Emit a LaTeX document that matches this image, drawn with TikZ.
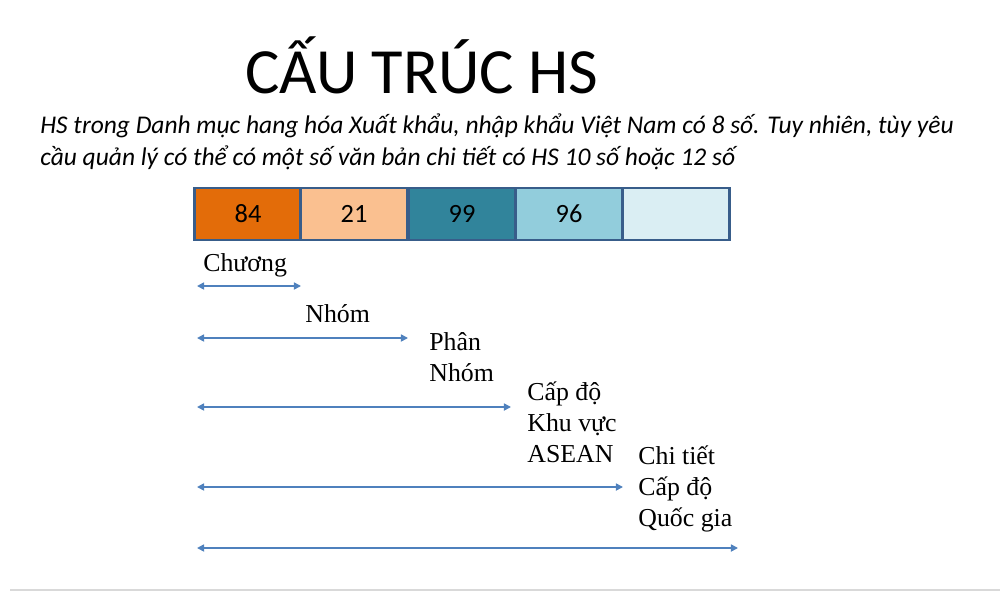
\documentclass[tikz,border=0pt]{standalone}
\usepackage{fontspec}
\setmainfont{Liberation Serif}
\newfontfamily\calibri{Carlito}
\usetikzlibrary{arrows.meta}
\definecolor{hsblue}{HTML}{4F81BD}
\definecolor{hsborder}{HTML}{385D8A}
\definecolor{hsorange}{HTML}{E36C09}
\definecolor{hspeach}{HTML}{FAC090}
\definecolor{hsteal}{HTML}{31849B}
\definecolor{hssky}{HTML}{92CDDC}
\definecolor{hspale}{HTML}{DAEEF3}

\begin{document}
\begin{tikzpicture}[x=0.02cm,y=-0.02cm,
   digit/.style={draw=hsborder,line width=1.6pt,minimum width=2.14cm,minimum height=1.04cm,
      inner sep=0pt,font=\calibri\fontsize{15}{18}\selectfont},
   level/.style={anchor=base west,font=\fontsize{14.7}{17.6}\selectfont,align=left,inner sep=0pt},
   span/.style={hsblue,line width=0.9pt,{Triangle[length=4pt,width=4pt]}-{Triangle[length=4pt,width=4pt]}}]
\useasboundingbox (0,0) rectangle (1000,592);
\draw[black!15,line width=1.2pt] (10,590) -- (1000,590);
% title and note (base = last line)
\node[anchor=base west,inner sep=0pt,font=\calibri\fontsize{36.7}{40}\selectfont] (title) at (245,93) {CẤU TRÚC HS};
\node[anchor=base west,inner sep=0pt,align=left,font=\calibri\itshape\fontsize{14.5}{17.8}\selectfont] (note) at (40,165)
   {HS trong Danh mục hang hóa Xuất khẩu, nhập khẩu Việt Nam có 8 số. Tuy nhiên, tùy yêu\\
    cầu quản lý có thể có một số văn bản chi tiết có HS 10 số hoặc 12 số};
% the digits
\node[digit,fill=hsorange] (d1) at (248,214) {84};
\node[digit,fill=hspeach]  (d2) at (354,214) {21};
\node[digit,fill=hsteal]   (d3) at (462,214) {99};
\node[digit,fill=hssky]    (d4) at (569,214) {96};
\node[digit,fill=hspale]   (d5) at (676,214) {};
% levels
\node[level] (chuong) at (203,271) {Chương};
\node[level] (nhom) at (305,322) {Nhóm};
\node[level] (phannhom) at (429,381) {Phân\\Nhóm};
\node[level] (asean) at (527,462) {Cấp độ\\Khu vực\\ASEAN};
\node[level] (quocgia) at (638,526) {Chi tiết\\Cấp độ\\Quốc gia};
\coordinate (a0) at (197,286); \coordinate (a1) at (301,286);
\coordinate (b0) at (197,338); \coordinate (b1) at (408,338);
\coordinate (c0) at (197,407); \coordinate (c1) at (511,407);
\coordinate (e0) at (197,487); \coordinate (e1) at (623,487);
\coordinate (f0) at (197,548); \coordinate (f1) at (738,548);
\draw[span] (a0) -- (a1);
\draw[span] (b0) -- (b1);
\draw[span] (c0) -- (c1);
\draw[span] (e0) -- (e1);
\draw[span] (f0) -- (f1);
\end{tikzpicture}
\end{document}
